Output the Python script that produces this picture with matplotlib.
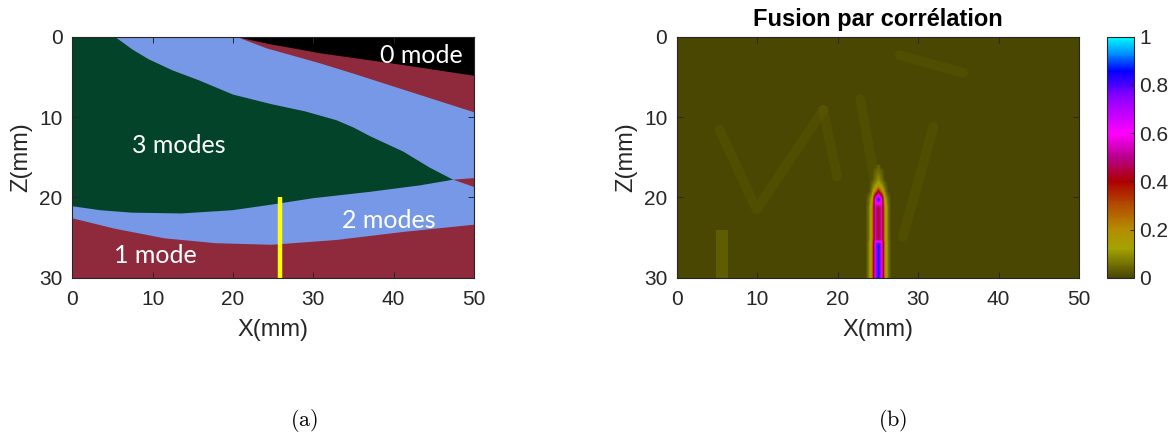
#Two panels: mode map (a) and correlation fusion image (b)

import numpy as np
import matplotlib.pyplot as plt
from matplotlib.colors import LinearSegmentedColormap
from matplotlib.cm import ScalarMappable
from matplotlib.colors import Normalize

#########################################################################
# DATA                                                                  #
#########################################################################

# boundaries of the mode regions, z (mm) along x (mm)
b0_x = [20.5, 24.2, 30.8, 40.0, 50.0]                  # 0 mode / 1 mode
b0_z = [0.0, 0.8, 2.0, 3.3, 4.8]
b1_x = [0.0, 20.4, 24.2, 30.8, 35.0, 40.0, 45.0, 50.0]   # 1 mode / 2 modes (top)
b1_z = [0.0, 0.0, 1.45, 3.3, 4.6, 6.2, 7.8, 9.4]
p_x = [0.0, 5.3, 7.5, 9.5, 12.5, 15.7, 20.0, 24.8, 29.0, 32.9, 35.0, 37.1, 41.2, 44.5, 47.4, 50.0]  # upper edge of 3 modes
p_z = [0.0, 0.0, 1.6, 2.8, 4.2, 5.4, 7.2, 8.4, 9.3, 10.4, 11.3, 12.4, 14.3, 16.3, 17.8, 18.7]
q_x = [0.0, 3.5, 7.4, 13.6, 19.9, 24.8, 30.0, 37.1, 43.3, 47.4, 50.0]   # lower edge of 3 modes
q_z = [21.1, 21.6, 21.9, 22.0, 21.6, 20.9, 20.1, 19.3, 18.5, 17.8, 17.6]
b4_x = [0.0, 5.3, 11.5, 17.8, 24.8, 32.9, 41.2, 50.0]   # 2 modes / 1 mode (bottom)
b4_z = [22.6, 23.9, 25.1, 25.7, 25.9, 25.3, 24.3, 23.4]
tip_x = 47.4

yellow_x = 25.9
yellow_z = [20.0, 30.0]

mode_labels = ['0 mode', '1 mode', '2 modes', '3 modes']
mode_label_x = [43.5, 10.3, 39.4, 13.2]
mode_label_z = [3.3, 28.2, 23.8, 14.5]

# correlation image: background level and the bright stripe around x = 25 mm
bg = 0.0
stripe_extent = [23.2, 26.8, 30.0, 16.0]   # 9 columns x 28 rows (0.4 mm x 0.5 mm)
glow_rows = [
    [bg, bg, bg, bg, 0.04, bg, bg, bg, bg],
    [bg, bg, bg, 0.03, 0.05, 0.03, bg, bg, bg],
    [bg, bg, bg, 0.04, 0.07, 0.04, bg, bg, bg],
    [bg, bg, bg, 0.05, 0.09, 0.05, bg, bg, bg],
    [bg, bg, 0.03, 0.08, 0.13, 0.08, 0.03, bg, bg],
    [bg, bg, 0.05, 0.13, 0.22, 0.13, 0.05, bg, bg],
]
tip_rows = [
    [bg, bg, 0.07, 0.22, 0.42, 0.22, 0.07, bg, bg],
    [bg, 0.03, 0.10, 0.42, 0.62, 0.42, 0.10, 0.03, bg],
    [bg, 0.05, 0.14, 0.58, 0.88, 0.58, 0.14, 0.05, bg],
    [bg, 0.05, 0.16, 0.58, 0.62, 0.58, 0.16, 0.05, bg],
]
core_row = [bg, 0.06, 0.20, 0.56, 0.42, 0.56, 0.20, 0.06, bg]
lower_row = [bg, 0.07, 0.22, 0.64, 0.86, 0.64, 0.22, 0.07, bg]
stripe = np.array(glow_rows + tip_rows + [core_row] * 9 + [lower_row] * 9)

# faint streaks in the background
streaks = [
    ([5.3, 9.9, 18.2], [11.6, 21.5, 9.1]),
    ([18.2, 19.9], [9.1, 17.4]),
    ([22.8, 24.6], [7.8, 18.0]),
    ([31.9, 28.1], [11.2, 24.9]),
    ([27.7, 35.6], [2.3, 4.5]),
]
side_stripe_x = [4.9, 6.4]
side_stripe_z = [24.0, 30.0]

cbar_ticks = [0, 0.2, 0.4, 0.6, 0.8, 1]
cbar_labels = ['0', '0.2', '0.4', '0.6', '0.8', '1']
x_ticks = [0, 10, 20, 30, 40, 50]
z_ticks = [0, 10, 20, 30]

#########################################################################
# STYLE                                                                 #
#########################################################################

plt.rcParams['font.family'] = ['Liberation Sans', 'DejaVu Sans']
plt.rcParams['mathtext.fontset'] = 'cm'
grey = '#262626'

red = '#8E2A3C'
blue = '#7798E6'
green = '#03432A'

cmap = LinearSegmentedColormap.from_list('fusion', [
    (0.0, (0.29, 0.28, 0.01)),
    (0.12, (0.64, 0.64, 0.0)),
    (0.2, (0.71, 0.55, 0.0)),
    (0.3, (0.70, 0.30, 0.0)),
    (0.4, (0.68, 0.0, 0.0)),
    (0.5, (0.72, 0.0, 0.55)),
    (0.6, (1.0, 0.0, 1.0)),
    (0.75, (0.55, 0.0, 1.0)),
    (0.86, (0.0, 0.0, 1.0)),
    (0.93, (0.0, 0.55, 1.0)),
    (1.0, (0.0, 1.0, 1.0)),
])


def style_axes(ax):
    ax.set_xlim(0, 50)
    ax.set_ylim(30, 0)
    ax.set_xticks(x_ticks)
    ax.set_yticks(z_ticks)
    ax.tick_params(direction='in', top=True, right=True, length=4, width=0.7,
                   labelsize=15, colors=grey, pad=7)
    ax.tick_params(axis='x', pad=9)
    for s in ax.spines.values():
        s.set_color(grey)
        s.set_linewidth(0.8)
    ax.set_xlabel('X(mm)', fontsize=17, color=grey, labelpad=7)
    ax.set_ylabel('Z(mm)', fontsize=17, color=grey, labelpad=5)


fig = plt.figure(figsize=(11.75, 4.34), dpi=100)

#########################################################################
# (a) MODE MAP                                                          #
#########################################################################

ax1 = fig.add_axes([0.0615, 0.3601, 0.3419, 0.5553])
ax1.set_facecolor(red)

# 2 modes band, then 3 modes on top of it
ax1.fill(np.concatenate([b1_x, b4_x[::-1]]), np.concatenate([b1_z, b4_z[::-1]]),
         color=blue, lw=0)
px, pz, qx, qz = map(np.array, (p_x, p_z, q_x, q_z))
ax1.fill(np.concatenate([px[px <= tip_x], qx[qx <= tip_x][::-1]]),
         np.concatenate([pz[px <= tip_x], qz[qx <= tip_x][::-1]]), color=green, lw=0)
# past the tip the two 2-mode bands are split by a thin 1-mode wedge
ax1.fill(np.concatenate([qx[qx >= tip_x], px[px >= tip_x][::-1]]),
         np.concatenate([qz[qx >= tip_x], pz[px >= tip_x][::-1]]), color=red, lw=0)
ax1.fill_between(b0_x, 0, b0_z, color='black', lw=0)

ax1.vlines(yellow_x, yellow_z[0], yellow_z[1], color='#FFFF00', lw=3.2)

for txt, x, z in zip(mode_labels, mode_label_x, mode_label_z):
    ax1.text(x, z, txt, color='white', fontsize=18, family='Lato',
             ha='center', va='baseline')

style_axes(ax1)

#########################################################################
# (b) CORRELATION FUSION                                                #
#########################################################################

ax2 = fig.add_axes([0.5762, 0.3601, 0.3421, 0.5553])
ax2.imshow([[bg]], cmap=cmap, vmin=0, vmax=1, extent=[0, 50, 30, 0], aspect='auto')
for sx, sz in streaks:
    ax2.plot(sx, sz, color=cmap(0.1), lw=7, alpha=0.1, solid_capstyle='round')
ax2.fill_betweenx(side_stripe_z, side_stripe_x[0], side_stripe_x[1],
                  color=cmap(0.1), alpha=0.3, lw=0)
ax2.imshow(stripe, cmap=cmap, vmin=0, vmax=1, extent=stripe_extent,
           interpolation='bilinear', aspect='auto')
ax2.set_title('Fusion par corrélation', fontsize=17, fontweight='bold', pad=8)
style_axes(ax2)

cax = fig.add_axes([0.9421, 0.3601, 0.023, 0.5553])
cb = fig.colorbar(ScalarMappable(norm=Normalize(0, 1), cmap=cmap), cax=cax)
cb.set_ticks(cbar_ticks)
cb.set_ticklabels(cbar_labels)
cb.ax.tick_params(direction='in', length=3, width=0.7, labelsize=15, colors=grey, pad=4)
cb.outline.set_edgecolor(grey)
cb.outline.set_linewidth(0.8)

fig.text(304 / 1175, 1 - 420 / 434, r'$\mathrm{(a)}$', fontsize=16, ha='center', va='center')
fig.text(893 / 1175, 1 - 420 / 434, r'$\mathrm{(b)}$', fontsize=16, ha='center', va='center')

plt.savefig('out.png', dpi=100)
